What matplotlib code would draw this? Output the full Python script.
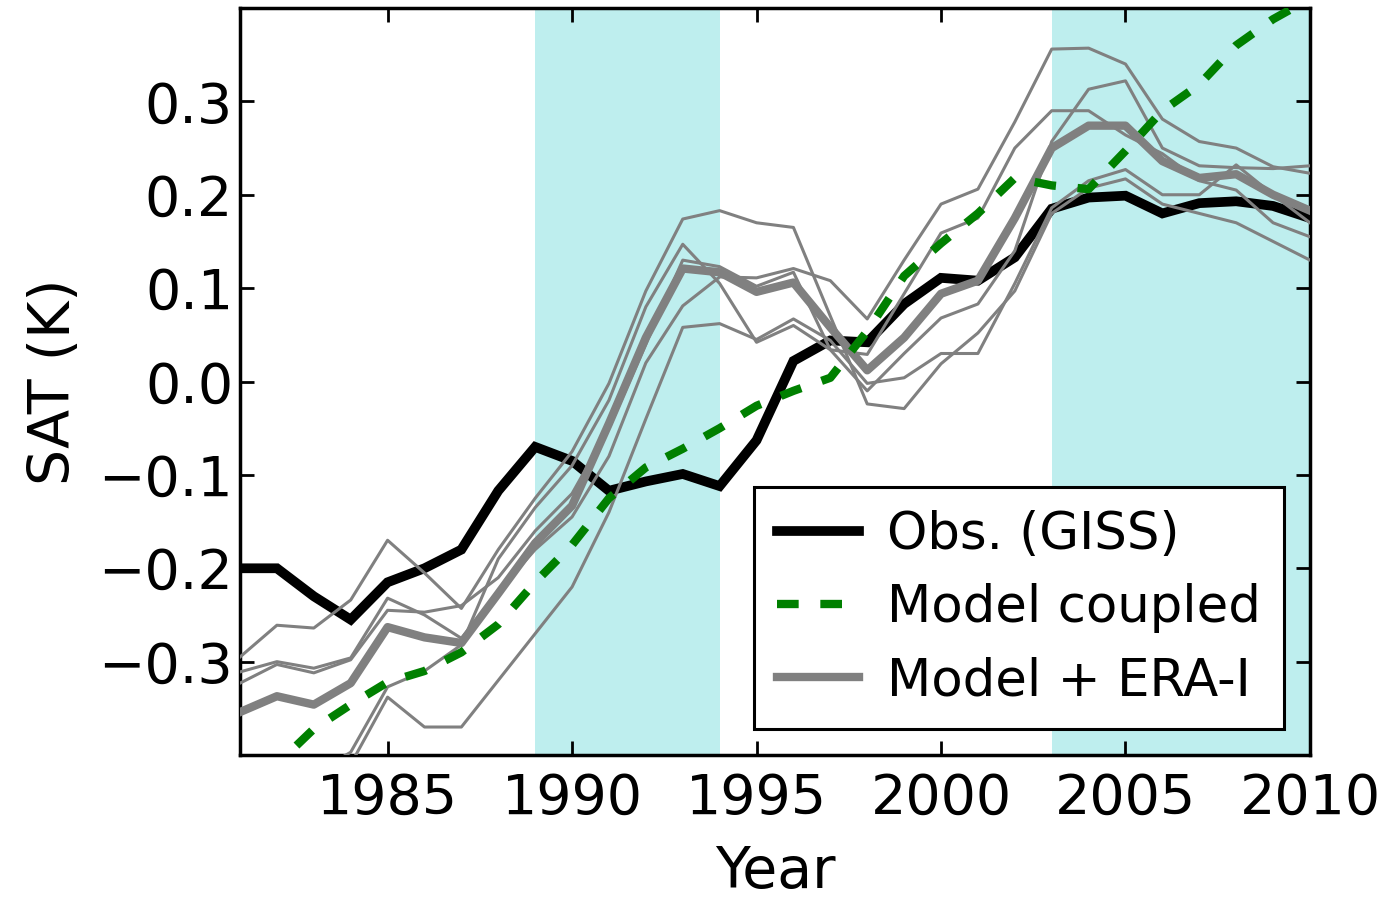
import numpy as np
import matplotlib
matplotlib.use("Agg")
import matplotlib.pyplot as plt

plt.rcParams['font.family'] = ['DejaVu Sans']

years = np.arange(1981, 2011)

# observed SAT anomaly (GISS)
obs = [-0.20, -0.20, -0.23, -0.255, -0.215, -0.20, -0.18, -0.117, -0.070, -0.085,
       -0.117, -0.107, -0.099, -0.112, -0.063, 0.022, 0.044, 0.042, 0.083, 0.111,
       0.108, 0.133, 0.185, 0.197, 0.199, 0.180, 0.191, 0.193, 0.188, 0.175]

# coupled model
coupled = [-0.46, -0.41, -0.372, -0.346, -0.322, -0.31, -0.29, -0.26, -0.215, -0.175,
           -0.125, -0.092, -0.072, -0.05, -0.026, -0.01, 0.004, 0.054, 0.113, 0.148,
           0.18, 0.218, 0.21, 0.206, 0.247, 0.29, 0.318, 0.36, 0.388, 0.41]

# model + ERA-I, ensemble members
mem_a = [-0.295, -0.261, -0.264, -0.234, -0.17, -0.205, -0.243, -0.18, -0.125, -0.075,
         -0.002, 0.097, 0.174, 0.183, 0.17, 0.165, 0.07, -0.024, -0.029, 0.019,
         0.052, 0.097, 0.18, 0.207, 0.217, 0.19, 0.18, 0.17, 0.15, 0.13]
mem_b = [-0.42, -0.41, -0.42, -0.397, -0.327, -0.31, -0.282, -0.19, -0.135, -0.09,
         -0.02, 0.08, 0.147, 0.105, 0.042, 0.06, 0.034, -0.01, 0.03, 0.068,
         0.083, 0.14, 0.257, 0.313, 0.322, 0.25, 0.231, 0.229, 0.228, 0.231]
mem_c = [-0.311, -0.30, -0.307, -0.296, -0.232, -0.25, -0.275, -0.225, -0.18, -0.145,
         -0.08, 0.02, 0.081, 0.112, 0.111, 0.121, 0.108, 0.067, 0.13, 0.19,
         0.206, 0.278, 0.356, 0.357, 0.34, 0.281, 0.257, 0.25, 0.23, 0.223]
mem_d = [-0.42, -0.41, -0.43, -0.41, -0.338, -0.37, -0.37, -0.32, -0.27, -0.22,
         -0.14, -0.04, 0.058, 0.062, 0.045, 0.067, 0.044, -0.002, 0.004, 0.03,
         0.03, 0.105, 0.186, 0.215, 0.227, 0.20, 0.20, 0.232, 0.20, 0.17]
mem_e = [-0.323, -0.303, -0.312, -0.298, -0.245, -0.247, -0.24, -0.21, -0.16, -0.12,
         -0.05, 0.04, 0.13, 0.123, 0.102, 0.117, 0.034, 0.029, 0.094, 0.159,
         0.175, 0.25, 0.29, 0.29, 0.264, 0.244, 0.215, 0.205, 0.17, 0.155]
members = [mem_a, mem_b, mem_c, mem_d, mem_e]

# ensemble mean
era_mean = [-0.354, -0.337, -0.346, -0.323, -0.263, -0.274, -0.28, -0.227, -0.173, -0.133,
            -0.045, 0.047, 0.121, 0.117, 0.096, 0.106, 0.058, 0.012, 0.047, 0.094,
            0.108, 0.175, 0.25, 0.274, 0.274, 0.236, 0.218, 0.222, 0.20, 0.183]

# shaded periods
periods = [(1989, 1994), (2003, 2010)]

fig = plt.figure(figsize=(13.97, 8.98), dpi=100)
ax = fig.add_axes([0.1718, 0.1592, 0.7659, 0.8319])

for p0, p1 in periods:
    ax.axvspan(p0, p1, color='#beeeee', lw=0, zorder=0)

l_obs, = ax.plot(years, obs, color='k', lw=7, zorder=3, solid_joinstyle='miter')
for m in members:
    ax.plot(years, m, color='gray', lw=2.2, zorder=4)
l_era, = ax.plot(years, era_mean, color='gray', lw=6, zorder=5)
l_cpl, = ax.plot(years, coupled, color='g', lw=6, ls='--', dashes=(2.6, 2.6), zorder=6)

ax.set_xlim(1981, 2010)
ax.set_ylim(-0.4, 0.4)
ax.set_xticks([1985, 1990, 1995, 2000, 2005, 2010])
ax.set_yticks([-0.3, -0.2, -0.1, 0.0, 0.1, 0.2, 0.3])
ax.set_yticklabels(['\u22120.3', '\u22120.2', '\u22120.1', '0.0', '0.1', '0.2', '0.3'])
ax.tick_params(direction='in', top=True, right=True, length=10, width=2,
               labelsize=40)
ax.tick_params(axis='x', pad=12)
ax.tick_params(axis='y', pad=5)
for s in ax.spines.values():
    s.set_linewidth(2.5)

ax.set_xlabel('Year', fontsize=41, labelpad=14)
ax.set_ylabel('SAT (K)', fontsize=41, labelpad=12)

leg = ax.legend([l_obs, l_cpl, l_era], ['Obs. (GISS)', 'Model coupled', 'Model + ERA-I'],
                loc='lower right', fontsize=37, handlelength=1.6, fancybox=False,
                framealpha=1, borderpad=0.45, labelspacing=0.45, handletextpad=0.55)
leg.get_frame().set_edgecolor('k')
leg.get_frame().set_linewidth(2.2)

fig.savefig('out.png', dpi=100)
